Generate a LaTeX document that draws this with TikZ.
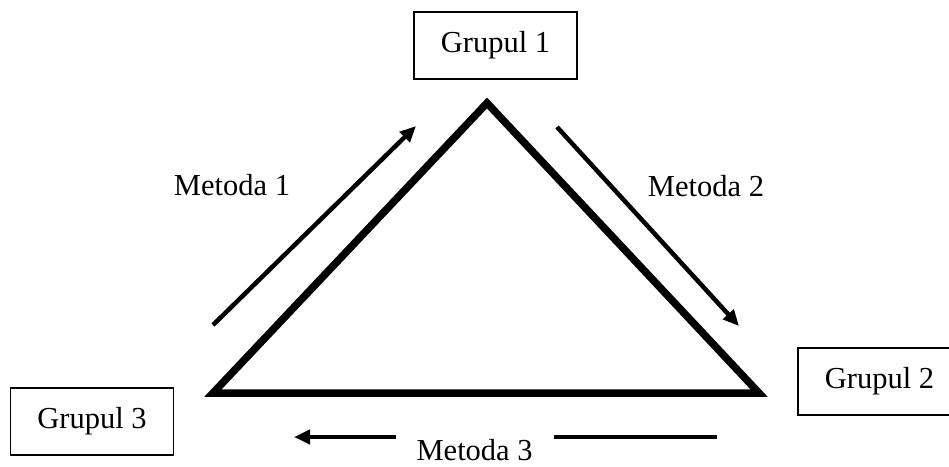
\documentclass[tikz,border=0pt]{standalone}
\usepackage{fontspec}
\setmainfont{Liberation Serif}
\usetikzlibrary{arrows.meta}
\begin{document}
\begin{tikzpicture}[x=1pt,y=-1pt,
  every node/.style={font=\fontsize{30.5}{36}\selectfont},
  groupbox/.style={draw,line width=1.4pt,minimum width=163pt,minimum height=67pt,inner sep=0pt},
  methodarrow/.style={line width=4.5pt,-{Triangle[length=16pt,width=14pt]}},
  tri/.style={line width=7.5pt,line join=miter}
]
\useasboundingbox (0,0) rectangle (949,466);
% triangle
\coordinate (A) at (487,103);
\coordinate (B) at (213,393);
\coordinate (C) at (759,393);
\draw[tri] (A) -- (B) -- (C) -- cycle;
% groups
\node[groupbox] (g1) at (495.5,45.5) {Grupul 1};
\node[groupbox] (g2) at (879.5,381.5) {Grupul 2};
\node[groupbox] (g3) at (92,421.5) {Grupul 3};
% method labels
\node (m1) at (232,185) {Metoda 1};
\node (m2) at (706,186) {Metoda 2};
% method arrows
\coordinate (m1s) at (213,325);
\coordinate (m1e) at (416,126);
\draw[methodarrow] (m1s) -- (m1e);
\coordinate (m2s) at (557,127);
\coordinate (m2e) at (739,326);
\draw[methodarrow] (m2s) -- (m2e);
\coordinate (m3s) at (717,437);
\coordinate (m3e) at (294,437);
\draw[methodarrow] (m3s) -- node[pos=0.573,fill=white,inner xsep=21pt,inner ysep=8pt,yshift=-13pt] (m3) {Metoda 3} (m3e);
\end{tikzpicture}
\end{document}
